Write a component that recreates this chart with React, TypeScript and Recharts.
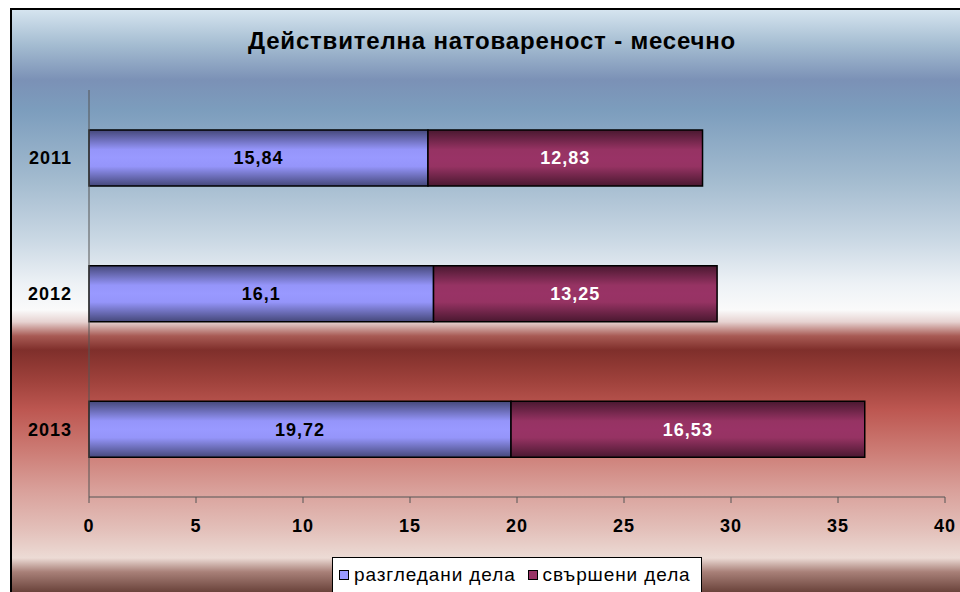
import { Bar, BarChart, LabelList, Legend, XAxis, YAxis } from "recharts";

const years = ["2011", "2012", "2013"];
const reviewed = [15.84, 16.1, 19.72];
const completed = [12.83, 13.25, 16.53];
const xTicks = [0, 5, 10, 15, 20, 25, 30, 35, 40];

const seriesNames = ["разгледани дела", "свършени дела"];

const FONT = "'Liberation Sans', Arial, sans-serif";

const frameBg = `linear-gradient(to bottom,
  #d5e4ef 0px, #a4bcd1 35px, #7b91b6 70px, #7c9dbd 100px, #a3bbcf 170px,
  #cad8e4 230px, #eef2f6 275px, #fafafa 300px, #e6d2d0 312px, #a85a54 326px,
  #7f2f2b 340px, #9e413b 370px, #bd5751 400px, #cc7b74 440px, #d9a09a 480px,
  #e3c0ba 520px, #ecdbd5 548px, #a88078 562px, #6a433b 582px)`;

const fmt = (v: any) => String(v).replace(".", ",");

const tickStyle = { fill: "#000", fontSize: 18, fontWeight: "bold", fontFamily: FONT, letterSpacing: 1 };

const LegendBox = () => (
  <div
    style={{
      boxSizing: "border-box",
      width: 370,
      height: 40,
      border: "1px solid #000",
      background: "#fff",
      display: "flex",
      alignItems: "flex-start",
      paddingTop: 6,
      paddingLeft: 6,
      fontFamily: FONT,
      fontSize: 19,
      letterSpacing: 0.9,
      color: "#000",
      whiteSpace: "nowrap",
    }}
  >
    <span style={{ display: "inline-block", width: 8, height: 8, background: "#9999ff", border: "1px solid #000", marginTop: 6, marginRight: 5 }} />
    <span>{seriesNames[0]}</span>
    <span style={{ display: "inline-block", width: 8, height: 8, background: "#993366", border: "1px solid #000", marginTop: 6, marginLeft: 12, marginRight: 5 }} />
    <span>{seriesNames[1]}</span>
  </div>
);

export default function App() {
  const data = years.map((year, i) => ({
    year,
    reviewed: reviewed[i],
    completed: completed[i],
  }));

  return (
    <div style={{ position: "relative", width: 960, height: 592, overflow: "hidden", background: "#fff" }}>
      <style>{"body{margin:0}"}</style>
      <div
        style={{
          position: "absolute",
          left: 10,
          top: 8,
          width: 970,
          height: 600,
          borderLeft: "2px solid #000",
          borderTop: "2px solid #000",
          background: frameBg,
        }}
      />
      <div
        style={{
          position: "absolute",
          left: 0,
          top: 27,
          width: 984,
          textAlign: "center",
          fontFamily: FONT,
          fontWeight: "bold",
          fontSize: 24,
          letterSpacing: 0.8,
          color: "#000",
        }}
      >
        Действителна натовареност - месечно
      </div>
      <div style={{ position: "absolute", left: 0, top: 0 }}>
        <BarChart
          width={960}
          height={592}
          data={data}
          layout="vertical"
          margin={{ top: 90, right: 15, bottom: 55, left: 0 }}
        >
          <defs>
            <linearGradient id="gradBlue" x1="0" y1="0" x2="0" y2="1">
              <stop offset="0%" stopColor="#45487a" />
              <stop offset="35%" stopColor="#9595fa" />
              <stop offset="50%" stopColor="#9999ff" />
              <stop offset="65%" stopColor="#9595fa" />
              <stop offset="100%" stopColor="#45487a" />
            </linearGradient>
            <linearGradient id="gradPurple" x1="0" y1="0" x2="0" y2="1">
              <stop offset="0%" stopColor="#4a1830" />
              <stop offset="35%" stopColor="#963363" />
              <stop offset="50%" stopColor="#993366" />
              <stop offset="65%" stopColor="#963363" />
              <stop offset="100%" stopColor="#4a1830" />
            </linearGradient>
          </defs>
          <XAxis
            type="number"
            domain={[0, 40]}
            ticks={xTicks}
            interval={0}
            height={40}
            stroke="#555"
            tickSize={6}
            tickMargin={16}
            tick={tickStyle}
          />
          <YAxis
            type="category"
            dataKey="year"
            width={89}
            stroke="#555"
            tickLine={false}
            tickMargin={11}
            tick={tickStyle}
          />
          <Legend
            layout="vertical"
            align="center"
            verticalAlign="middle"
            content={() => <LegendBox />}
            wrapperStyle={{ position: "absolute", left: 332, top: 557, width: 370, height: 40 }}
          />
          <Bar
            dataKey="reviewed"
            name={seriesNames[0]}
            stackId="a"
            barSize={56}
            fill="url(#gradBlue)"
            stroke="#000"
            strokeWidth={1.5}
            isAnimationActive={false}
          >
            <LabelList
              dataKey="reviewed"
              position="center"
              formatter={fmt}
              fill="#000"
              fontSize={18}
              fontWeight="bold"
              fontFamily={FONT}
              letterSpacing={1}
            />
          </Bar>
          <Bar
            dataKey="completed"
            name={seriesNames[1]}
            stackId="a"
            barSize={56}
            fill="url(#gradPurple)"
            stroke="#000"
            strokeWidth={1.5}
            isAnimationActive={false}
          >
            <LabelList
              dataKey="completed"
              position="center"
              formatter={fmt}
              fill="#fff"
              fontSize={18}
              fontWeight="bold"
              fontFamily={FONT}
              letterSpacing={1}
            />
          </Bar>
        </BarChart>
      </div>
    </div>
  );
}
